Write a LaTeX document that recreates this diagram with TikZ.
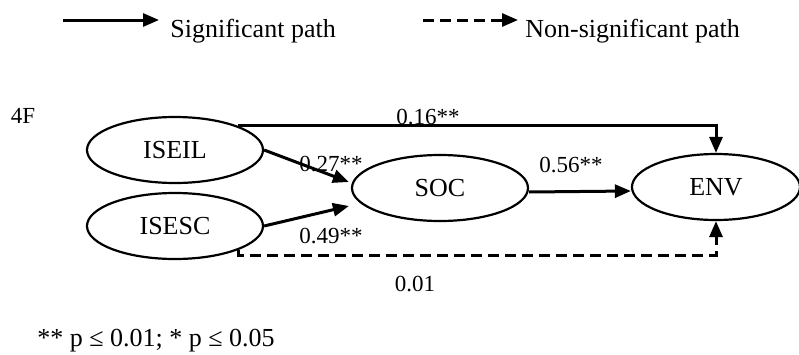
\documentclass[tikz,border=0pt]{standalone}
\usepackage{fontspec}
\setmainfont{Liberation Serif}
\usetikzlibrary{shapes.geometric,arrows.meta}

\tikzstyle{construct} = [ellipse, draw=black, line width=1.1pt, minimum width=88pt, minimum height=33pt, inner sep=0pt, font=\fontsize{13}{15}\selectfont]
\tikzstyle{coef} = [inner sep=0pt, font=\fontsize{11.5}{13}\selectfont]
\tikzstyle{legendtext} = [inner sep=0pt, anchor=base west, font=\fontsize{13}{15}\selectfont]
\tikzstyle{arrow} = [line width=1.5pt, -{Triangle[length=8pt,width=6.5pt]}]
\tikzstyle{dasharrow} = [arrow, dash pattern=on 5.5pt off 3pt]

\begin{document}
\begin{tikzpicture}[x=0.5pt, y=-0.5pt]
  \useasboundingbox (0,0) rectangle (799,354);

  \coordinate (sig-start) at (63,20);
  \coordinate (sig-end) at (159,20);
  \node (sig-text) [legendtext] at (170,37) {Significant path};
  \coordinate (nonsig-start) at (423,20);
  \coordinate (nonsig-end) at (518,20);
  \node (nonsig-text) [legendtext] at (525,37) {Non-significant path};

  \node (panel) [coef] at (23,116) {4F};
  \node (iseil) [construct] at (175,150) {ISEIL};
  \node (isesc) [construct] at (175,226) {ISESC};
  \node (soc) [construct] at (440,188) {SOC};
  \node (env) [construct, minimum width=84pt] at (716,187) {ENV};
  \coordinate (dashlow) at (0,255);

  \node (c-top) [coef] at (428,117) {0.16**};
  \node (c-iseil) [coef] at (331,164) {0.27**};
  \node (c-isesc) [coef] at (331,236) {0.49**};
  \node (c-soc) [coef] at (571,165) {0.56**};
  \node (c-dash) [coef] at (415,284) {0.01};
  \node (note) [legendtext] at (37,346) {** p ≤ 0.01; * p ≤ 0.05};

  \draw [arrow] (sig-start) -- (sig-end);
  \draw [dasharrow] (nonsig-start) -- (nonsig-end);
  \draw [arrow] (iseil.north east) -| (env.north);
  \draw [arrow] (iseil.east) -- ([xshift=-1pt, yshift=3pt]soc.west);
  \draw [arrow] (isesc.east) -- ([xshift=-1pt, yshift=-9pt]soc.west);
  \draw [arrow] ([yshift=-2pt]soc.east) -- ([yshift=-2pt]env.west);
  \draw [dasharrow] (isesc.south east) -- (isesc.south east |- dashlow) -| (env.south);
\end{tikzpicture}
\end{document}
